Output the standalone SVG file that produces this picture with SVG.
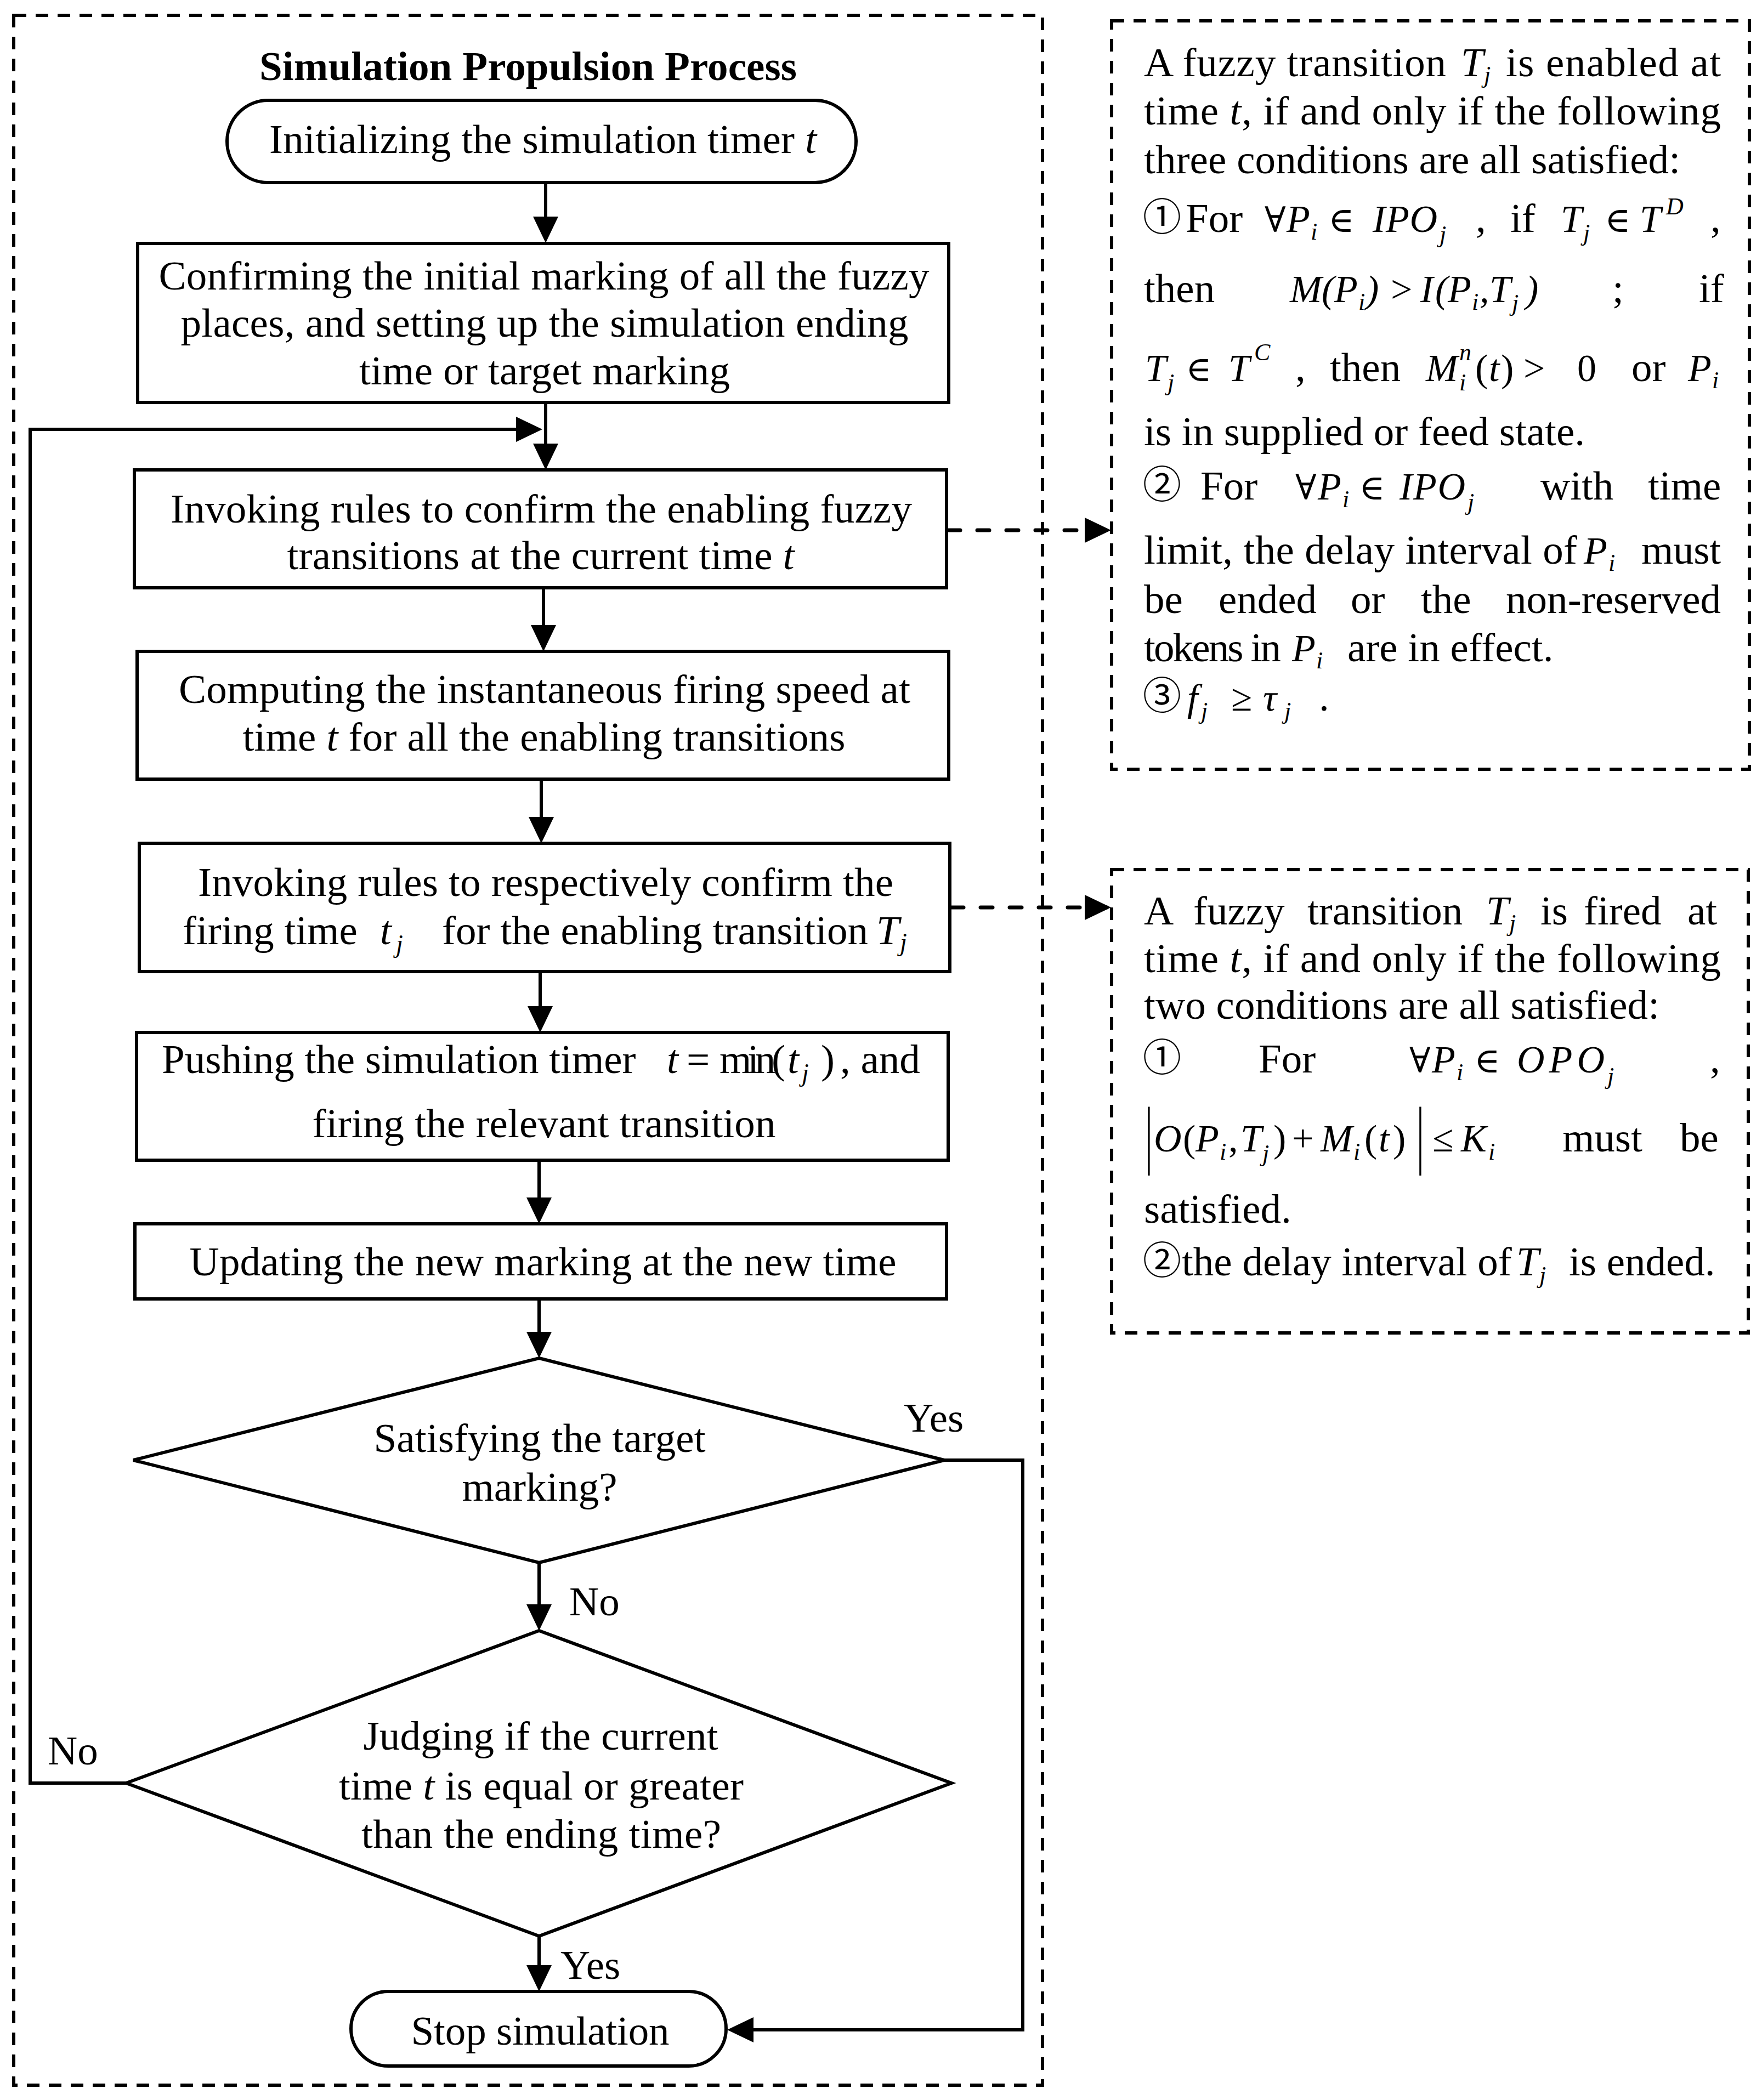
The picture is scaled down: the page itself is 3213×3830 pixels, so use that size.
<svg xmlns="http://www.w3.org/2000/svg" width="3213" height="3830" viewBox="0 0 3213 3830">
<style>
.tx{font-family:"Liberation Serif","Times New Roman",serif;font-size:75px;fill:#000}
.bd{font-weight:bold}
.it{font-style:italic}
.sb{font-size:46px;font-style:italic}
.m{font-size:70px;font-style:italic}
.mr{font-size:70px}
.ms{font-size:44px;font-style:italic}
.sy{font-family:"DejaVu Serif",serif;font-size:64px;fill:#000}
.cn{font-family:"Noto Sans CJK SC","DejaVu Sans",sans-serif;font-size:70px;fill:#000}
.mid{text-anchor:middle}
.box{fill:#fff;stroke:#000;stroke-width:6}
.dbox{fill:none;stroke:#000;stroke-width:6;stroke-dasharray:23 17}
.flow{fill:none;stroke:#000;stroke-width:6;marker-end:url(#ah)}
.dash{fill:none;stroke:#000;stroke-width:7;stroke-linecap:round;stroke-dasharray:22 31;marker-end:url(#ah)}
</style>
<defs>
<marker id="ah" markerUnits="userSpaceOnUse" markerWidth="48" markerHeight="46" viewBox="0 0 48 46" refX="40" refY="23" orient="auto">
<path d="M0,0 L48,23 L0,46 z" fill="#000"/>
</marker>
</defs>
<rect x="0" y="0" width="3213" height="3830" fill="#fff"/>

<g id="process-frame">
<rect class="dbox" x="25" y="28" width="1876" height="3775"/>
<text class="tx bd mid" x="963" y="146" textLength="980">Simulation Propulsion Process</text>
</g>

<g id="connectors">
<path class="flow" d="M995,333 V435"/>
<path class="flow" d="M995,734 V849"/>
<path class="flow" d="M991,1072 V1180"/>
<path class="flow" d="M987,1421 V1530"/>
<path class="flow" d="M985,1772 V1875"/>
<path class="flow" d="M983,2116 V2224"/>
<path class="flow" d="M983,2369 V2469"/>
<path class="flow" d="M983,2850 V2966"/>
<path class="flow" d="M983,3531 V3624"/>
<path class="flow" d="M1722,2663 H1865 V3702 H1334"/>
<path class="flow" d="M230,3252 H55 V783 H981"/>
<path class="dash" d="M1729,967 H2018"/>
<path class="dash" d="M1735,1655 H2018"/>
<text class="tx" x="1648" y="2611">Yes</text>
<text class="tx" x="1038" y="2946">No</text>
<text class="tx" x="87" y="3218">No</text>
<text class="tx" x="1022" y="3609">Yes</text>
</g>

<g id="start">
<rect class="box" x="414" y="183" width="1147" height="150" rx="75" ry="75"/>
<text class="tx mid" x="990" y="279" textLength="998">Initializing the simulation timer <tspan class="it">t</tspan></text>
</g>

<g id="confirm-initial">
<rect class="box" x="251" y="444" width="1479" height="290"/>
<text class="tx mid" x="992" y="528" textLength="1405">Confirming the initial marking of all the fuzzy</text>
<text class="tx mid" x="993" y="614" textLength="1327">places, and setting up the simulation ending</text>
<text class="tx mid" x="993" y="701" textLength="676">time or target marking</text>
</g>

<g id="invoke-enabling">
<rect class="box" x="245" y="857" width="1481" height="215"/>
<text class="tx mid" x="987" y="953" textLength="1352">Invoking rules to confirm the enabling fuzzy</text>
<text class="tx mid" x="986" y="1038" textLength="925">transitions at the current time <tspan class="it">t</tspan></text>
</g>

<g id="compute-speed">
<rect class="box" x="250" y="1188" width="1480" height="233"/>
<text class="tx mid" x="993" y="1282" textLength="1334">Computing the instantaneous firing speed at</text>
<text class="tx mid" x="992" y="1369" textLength="1099">time <tspan class="it">t</tspan> for all the enabling transitions</text>
</g>

<g id="invoke-firing">
<rect class="box" x="254" y="1538" width="1478" height="234"/>
<text class="tx mid" x="995" y="1634" textLength="1268">Invoking rules to respectively confirm the</text>
<text class="tx" x="333" y="1722">firing time</text>
<text class="tx it" x="693" y="1722">t</text>
<text class="tx sb" x="722" y="1737">j</text>
<text class="tx" x="806" y="1722">for the enabling transition</text>
<text class="tx it" x="1598" y="1722">T</text>
<text class="tx sb" x="1641" y="1734">j</text>
</g>

<g id="push-timer">
<rect class="box" x="249" y="1883" width="1480" height="233"/>
<text class="tx" x="295" y="1957">Pushing the simulation timer</text>
<text class="tx it" x="1216" y="1957">t</text>
<text class="tx" x="1252" y="1957">=</text>
<text class="tx" x="1312" y="1957" textLength="120">min(</text>
<text class="tx it" x="1436" y="1957">t</text>
<text class="tx sb" x="1462" y="1972">j</text>
<text class="tx" x="1497" y="1957">)</text>
<text class="tx" x="1532" y="1957">, and</text>
<text class="tx mid" x="992" y="2074" textLength="845">firing the relevant transition</text>
</g>

<g id="update-marking">
<rect class="box" x="246" y="2232" width="1480" height="137"/>
<text class="tx mid" x="990" y="2326" textLength="1289">Updating the new marking at the new time</text>
</g>

<g id="decision-target">
<polygon class="box" points="983,2477 1722,2663 983,2850 243,2663"/>
<text class="tx mid" x="984" y="2648" textLength="605">Satisfying the target</text>
<text class="tx mid" x="984" y="2737" textLength="283">marking?</text>
</g>

<g id="decision-time">
<polygon class="box" points="983,2974 1735,3252 983,3531 230,3252"/>
<text class="tx mid" x="986" y="3191" textLength="647">Judging if the current</text>
<text class="tx mid" x="987" y="3282" textLength="738">time <tspan class="it">t</tspan> is equal or greater</text>
<text class="tx mid" x="987" y="3370" textLength="656">than the ending time?</text>
</g>

<g id="stop">
<rect class="box" x="640" y="3632" width="684" height="136" rx="68" ry="68"/>
<text class="tx mid" x="985" y="3729" textLength="471">Stop simulation</text>
</g>

<g id="enable-conditions">
<rect class="dbox" x="2027" y="38" width="1163" height="1365"/>
<text class="tx" x="2086" y="139" textLength="551">A fuzzy transition</text>
<text class="tx m" x="2664" y="139" style="font-size:74px">T</text>
<text class="tx ms" x="2706" y="151">j</text>
<text class="tx" x="2746" y="139" textLength="392">is enabled at</text>
<text class="tx" x="2086" y="227" textLength="1052">time <tspan class="it">t</tspan>, if and only if the following</text>
<text class="tx" x="2086" y="316" textLength="978">three conditions are all satisfied:</text>

<text class="cn" x="2084" y="421">①</text>
<text class="tx" x="2162" y="423">For</text>
<text class="sy" x="2306" y="423">∀</text>
<text class="tx m" x="2346" y="423">P</text>
<text class="tx ms" x="2390" y="437">i</text>
<text class="sy" x="2422" y="423">∈</text>
<text class="tx m" x="2503" y="423" textLength="118">IPO</text>
<text class="tx ms" x="2625" y="442">j</text>
<text class="tx" x="2691" y="423">,</text>
<text class="tx" x="2754" y="423">if</text>
<text class="tx m" x="2846" y="423">T</text>
<text class="tx ms" x="2887" y="439">j</text>
<text class="sy" x="2926" y="423">∈</text>
<text class="tx m" x="2990" y="423">T</text>
<text class="tx ms" x="3038" y="391">D</text>
<text class="tx" x="3119" y="423">,</text>

<text class="tx" x="2086" y="551">then</text>
<text class="tx m" x="2352" y="551">M</text>
<text class="tx m" x="2410" y="551">(</text>
<text class="tx m" x="2433" y="551">P</text>
<text class="tx ms" x="2477" y="565">i</text>
<text class="tx m" x="2491" y="551">)</text>
<text class="tx mr" x="2536" y="551">&gt;</text>
<text class="tx m" x="2590" y="551">I</text>
<text class="tx m" x="2617" y="551">(</text>
<text class="tx m" x="2640" y="551">P</text>
<text class="tx ms" x="2684" y="565">i</text>
<text class="tx m" x="2698" y="551">,</text>
<text class="tx m" x="2716" y="551">T</text>
<text class="tx ms" x="2757" y="567">j</text>
<text class="tx m" x="2782" y="551">)</text>
<text class="tx" x="2940" y="551">;</text>
<text class="tx" x="3098" y="551">if</text>

<text class="tx m" x="2088" y="695">T</text>
<text class="tx ms" x="2129" y="712">j</text>
<text class="sy" x="2162" y="695">∈</text>
<text class="tx m" x="2240" y="695">T</text>
<text class="tx ms" x="2287" y="657">C</text>
<text class="tx" x="2362" y="695">,</text>
<text class="tx" x="2425" y="695">then</text>
<text class="tx m" x="2600" y="695">M</text>
<text class="tx ms" x="2661" y="657">n</text>
<text class="tx ms" x="2661" y="712">i</text>
<text class="tx mr" x="2690" y="695">(</text>
<text class="tx m" x="2715" y="695">t</text>
<text class="tx mr" x="2737" y="695">)</text>
<text class="tx mr" x="2778" y="695">&gt;</text>
<text class="tx mr" x="2876" y="695">0</text>
<text class="tx" x="2975" y="695">or</text>
<text class="tx m" x="3078" y="695">P</text>
<text class="tx ms" x="3122" y="708">i</text>

<text class="tx" x="2086" y="812">is in supplied or feed state.</text>

<text class="cn" x="2084" y="909">②</text>
<text class="tx" x="2189" y="911">For</text>
<text class="sy" x="2362" y="911">∀</text>
<text class="tx m" x="2403" y="911">P</text>
<text class="tx ms" x="2448" y="925">i</text>
<text class="sy" x="2478" y="911">∈</text>
<text class="tx m" x="2552" y="911" textLength="120">IPO</text>
<text class="tx ms" x="2676" y="930">j</text>
<text class="tx" x="2809" y="911">with</text>
<text class="tx" x="3005" y="911">time</text>

<text class="tx" x="2086" y="1028" textLength="790">limit, the delay interval of</text>
<text class="tx m" x="2888" y="1028">P</text>
<text class="tx ms" x="2933" y="1041">i</text>
<text class="tx" x="2993" y="1028" textLength="145">must</text>

<text class="tx" x="2086" y="1118">be</text>
<text class="tx" x="2222" y="1118">ended</text>
<text class="tx" x="2463" y="1118">or</text>
<text class="tx" x="2591" y="1118">the</text>
<text class="tx" x="2746" y="1118" textLength="392">non-reserved</text>

<text class="tx" x="2086" y="1206" textLength="250">tokens in</text>
<text class="tx m" x="2356" y="1206">P</text>
<text class="tx ms" x="2400" y="1219">i</text>
<text class="tx" x="2457" y="1206">are in effect.</text>

<text class="cn" x="2084" y="1294">③</text>
<text class="tx m" x="2165" y="1296">f</text>
<text class="tx ms" x="2190" y="1311">j</text>
<text class="tx mr" x="2245" y="1296">≥</text>
<text class="tx m" x="2303" y="1296">τ</text>
<text class="tx ms" x="2342" y="1311">j</text>
<text class="tx" x="2405" y="1296">.</text>
</g>

<g id="fire-conditions">
<rect class="dbox" x="2027" y="1586" width="1161" height="845"/>
<text class="tx" x="2086" y="1686">A</text>
<text class="tx" x="2176" y="1686">fuzzy</text>
<text class="tx" x="2384" y="1686">transition</text>
<text class="tx m" x="2710" y="1686" style="font-size:74px">T</text>
<text class="tx ms" x="2752" y="1698">j</text>
<text class="tx" x="2809" y="1686">is</text>
<text class="tx" x="2888" y="1686">fired</text>
<text class="tx" x="3077" y="1686">at</text>
<text class="tx" x="2086" y="1773" textLength="1052">time <tspan class="it">t</tspan>, if and only if the following</text>
<text class="tx" x="2086" y="1858" textLength="940">two conditions are all satisfied:</text>

<text class="cn" x="2084" y="1954">①</text>
<text class="tx" x="2295" y="1956">For</text>
<text class="sy" x="2570" y="1956">∀</text>
<text class="tx m" x="2611" y="1956">P</text>
<text class="tx ms" x="2656" y="1970">i</text>
<text class="sy" x="2688" y="1956">∈</text>
<text class="tx m" x="2766" y="1956" textLength="160">OPO</text>
<text class="tx ms" x="2931" y="1977">j</text>
<text class="tx" x="3118" y="1956">,</text>

<text class="tx" transform="translate(2088,2115) scale(0.5,1)" style="font-size:138px">|</text>
<text class="tx m" x="2104" y="2100">O</text>
<text class="tx mr" x="2157" y="2100">(</text>
<text class="tx m" x="2180" y="2100">P</text>
<text class="tx ms" x="2224" y="2115">i</text>
<text class="tx mr" x="2240" y="2100">,</text>
<text class="tx m" x="2262" y="2100">T</text>
<text class="tx ms" x="2302" y="2118">j</text>
<text class="tx mr" x="2322" y="2100">)</text>
<text class="tx mr" x="2356" y="2100">+</text>
<text class="tx m" x="2408" y="2100">M</text>
<text class="tx ms" x="2468" y="2115">i</text>
<text class="tx mr" x="2488" y="2100">(</text>
<text class="tx m" x="2514" y="2100">t</text>
<text class="tx mr" x="2540" y="2100">)</text>
<text class="tx" transform="translate(2583,2115) scale(0.5,1)" style="font-size:138px">|</text>
<text class="tx mr" x="2612" y="2100">≤</text>
<text class="tx m" x="2664" y="2100">K</text>
<text class="tx ms" x="2714" y="2115">i</text>
<text class="tx" x="2849" y="2100">must</text>
<text class="tx" x="3063" y="2100">be</text>

<text class="tx" x="2086" y="2230">satisfied.</text>

<text class="cn" x="2084" y="2324">②</text>
<text class="tx" x="2155" y="2326">the delay interval of</text>
<text class="tx m" x="2765" y="2326" style="font-size:74px">T</text>
<text class="tx ms" x="2807" y="2340">j</text>
<text class="tx" x="2861" y="2326">is ended.</text>
</g>
</svg>
